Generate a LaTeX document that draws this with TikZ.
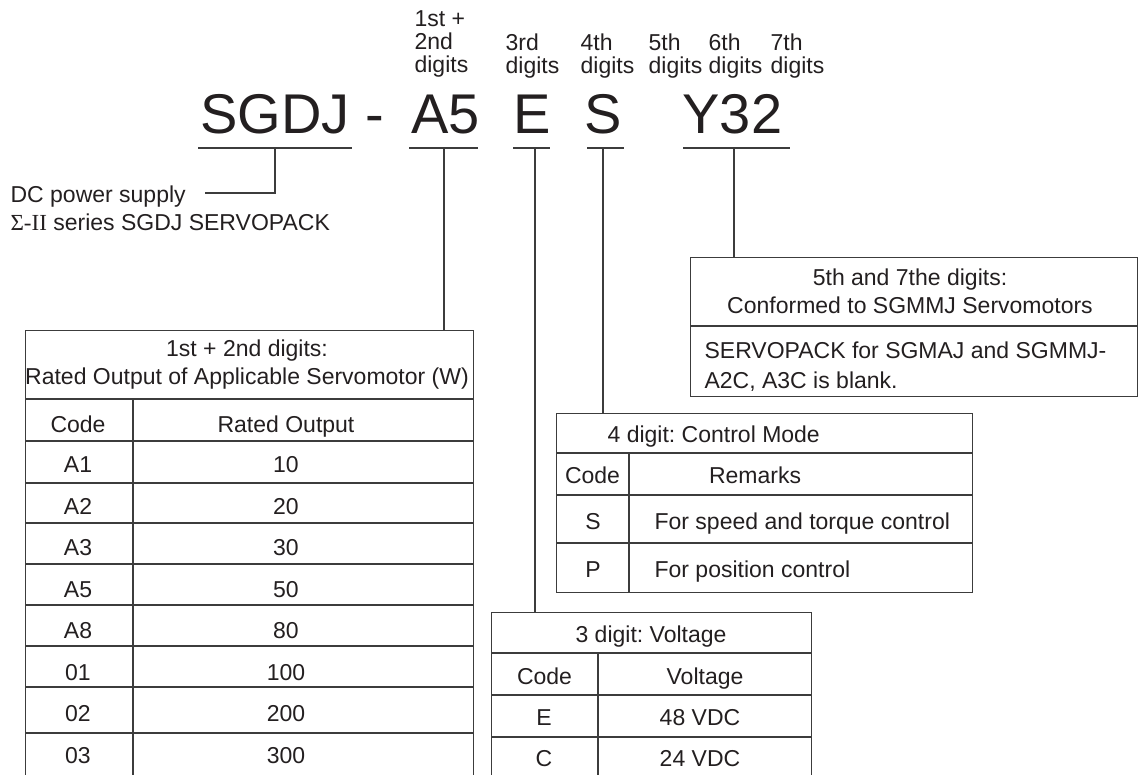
\documentclass[tikz,border=0pt]{standalone}
\usepackage{fontspec}
\setmainfont{Liberation Sans}
\newfontfamily\sigmafont{Liberation Serif}
\usepackage{tikz}
\definecolor{ink}{HTML}{231F20}
\definecolor{rule}{HTML}{3C3C3C}
\frenchspacing

\begin{document}
\begin{tikzpicture}[x=1pt, y=-1pt, line width=1.2pt,
		code/.style={inner sep=0pt, anchor=base west, text=ink, font=\fontsize{56}{56}\selectfont},
		digitlabel/.style={inner sep=0pt, anchor=north west, align=left, text=ink, font=\fontsize{23}{23}\selectfont},
		cell/.style={inner sep=0pt, anchor=base, text=ink, font=\fontsize{23}{28}\selectfont},
		tablebox/.style={draw=rule, anchor=north west, inner sep=0pt},
		lead/.style={draw=rule}]
				\useasboundingbox (0,0) rectangle (1138,774);

				% model number
				\node[code] (CodeSGDJ) at (199.5,133) {SGDJ};
				\node[code] (CodeDash) at (365,133) {-};
				\node[code] (CodeA5) at (411,133) {A5};
				\node[code] (CodeE) at (513,133) {E};
				\node[code] (CodeS) at (584,133) {S};
				\node[code] (CodeY) at (682,133) {Y32};

				\node[digitlabel] (DigitA5) at (414,10.5) {1st +\\2nd\\digits};
				\node[digitlabel] (DigitE) at (505,33.5) {3rd\\digits};
				\node[digitlabel] (DigitS) at (580,33.5) {4th\\digits};
				\node[digitlabel] (DigitFive) at (648,33.5) {5th\\digits};
				\node[digitlabel] (DigitSix) at (708,33.5) {6th\\digits};
				\node[digitlabel] (DigitSeven) at (770,33.5) {7th\\digits};

				\foreach \a/\b in {198/352, 409/478, 513/550, 587/624, 683/790}
					\draw[lead] (\a,148) -- (\b,148);

				\coordinate (UnderSGDJ) at (275,148);
				\coordinate (UnderA5) at (444,148);
				\coordinate (UnderE) at (535,148);
				\coordinate (UnderS) at (603,148);
				\coordinate (UnderY) at (734,148);

				\node[cell, anchor=base west] (PowerSupply) at (10,202) {DC power supply};
				\node[cell, anchor=base west] (Series) at (10,230) {{\sigmafont Σ-II} series SGDJ SERVOPACK};
				\coordinate (PowerEnd) at (205,193);
				\draw[lead] (UnderSGDJ) |- (PowerEnd);

				% tables
				\node[tablebox, minimum width=448pt, minimum height=448pt] (TabOutput) at (25,330) {};
				\node[tablebox, minimum width=416pt, minimum height=179pt] (TabMode) at (556,413) {};
				\node[tablebox, minimum width=447pt, minimum height=139pt] (TabMotor) at (690,257) {};
				\node[tablebox, minimum width=320pt, minimum height=166pt] (TabVoltage) at (491,612) {};

				\draw[lead] (UnderA5) -- (UnderA5 |- TabOutput.north);
				\draw[lead] (UnderE) -- (UnderE |- TabVoltage.north);
				\draw[lead] (UnderS) -- (UnderS |- TabMode.north);
				\draw[lead] (UnderY) -- (UnderY |- TabMotor.north);

				% 1st + 2nd digits
				\foreach \y in {399,441,483,523,564,605,646,687,733}
					\draw[lead] (25,\y) -- (473,\y);
				\draw[lead] (133,399) -- (133,778);
				\node[cell, anchor=center, align=center] (HeadOutput) at (247,365)
					{1st + 2nd digits:\\Rated Output of Applicable Servomotor (W)};
				\node[cell] (OutputCode) at (78,432) {Code};
				\node[cell] (OutputValue) at (286,432) {Rated Output};
				\foreach \c/\w [count=\i from 0] in {A1/10, A2/20, A3/30, A5/50, A8/80, 01/100, 02/200, 03/300} {
					\node[cell] (OutCode\i) at (78,472.5+41.5*\i) {\c};
					\node[cell] (OutWatt\i) at (286,472.5+41.5*\i) {\w};
				}

				% 4th digit
				\foreach \y in {453,495,543}
					\draw[lead] (556,\y) -- (972,\y);
				\draw[lead] (629,453) -- (629,592);
				\node[cell, anchor=base west] (HeadMode) at (607,442) {4 digit: Control Mode};
				\node[cell] (ModeCode) at (592.5,483) {Code};
				\node[cell] (ModeRemark) at (755,483) {Remarks};
				\node[cell] (ModeS) at (593,529) {S};
				\node[cell, anchor=base west] (ModeSText) at (654,529) {For speed and torque control};
				\node[cell] (ModeP) at (593,577) {P};
				\node[cell, anchor=base west] (ModePText) at (654,577) {For position control};

				% 5th - 7th digits
				\draw[lead] (690,326) -- (1137,326);
				\node[cell, anchor=center, align=center] (HeadMotor) at (910,291)
					{5th and 7the digits:\\Conformed to SGMMJ Servomotors};
				\node[cell, anchor=north west, align=left, font=\fontsize{23}{30}\selectfont] (MotorNote) at (704,341.5)
					{SERVOPACK for SGMAJ and SGMMJ-\\A2C, A3C is blank.};

				% 3rd digit
				\foreach \y in {653,695,737}
					\draw[lead] (491,\y) -- (811,\y);
				\draw[lead] (598,653) -- (598,778);
				\node[cell] (HeadVoltage) at (651,642) {3 digit: Voltage};
				\node[cell] (VoltCode) at (544.5,684) {Code};
				\node[cell] (VoltValue) at (705,684) {Voltage};
				\node[cell] (VoltE) at (544,725) {E};
				\node[cell] (VoltEText) at (700,725) {48 VDC};
				\node[cell] (VoltC) at (544,766) {C};
				\node[cell] (VoltCText) at (700,766) {24 VDC};

			\end{tikzpicture}
\end{document}
